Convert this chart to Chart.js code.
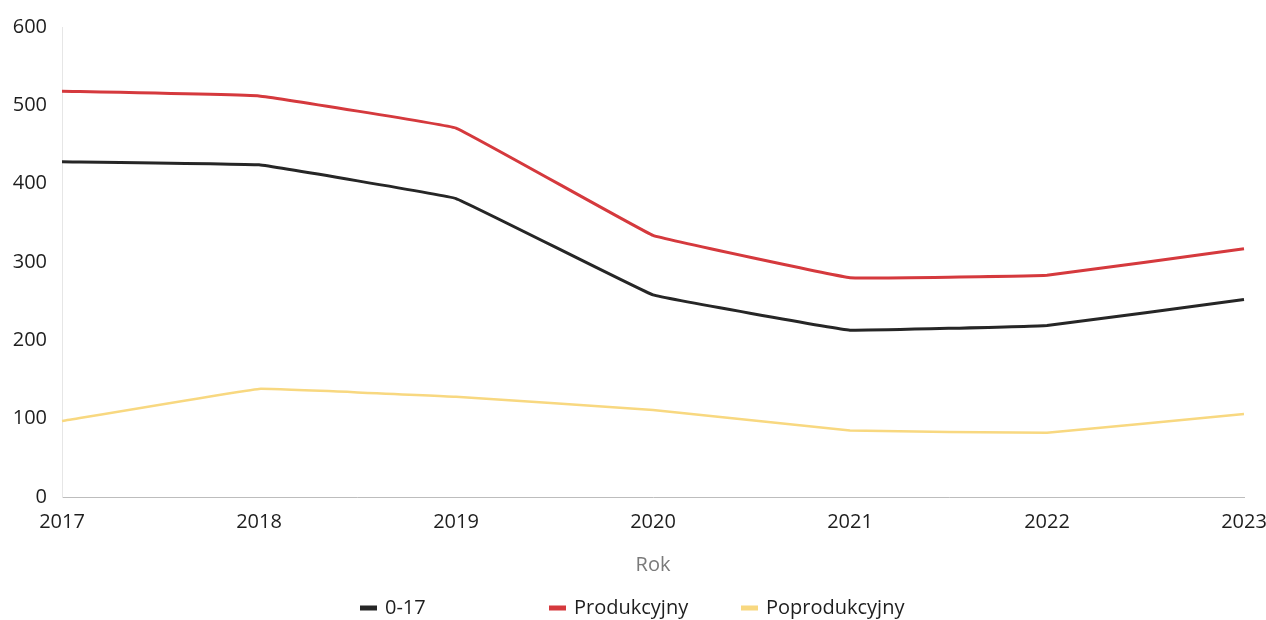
<!DOCTYPE html>
<html>
<head>
<meta charset="utf-8">
<script src="https://cdn.jsdelivr.net/npm/chart.js@4"></script>
<style>
  html, body { margin: 0; padding: 0; background: #fff; }
  #wrap { width: 1266px; height: 620px; }
</style>
</head>
<body>
<div id="wrap"><canvas id="chart" width="1266" height="620"></canvas></div>
<script>
// data
const years = ['2017', '2018', '2019', '2020', '2021', '2022', '2023'];
const kids = [428, 424, 381, 258, 213, 219, 252];          // 0-17
const working = [518, 512, 471, 334, 280, 283, 317];       // Produkcyjny
const retired = [97, 138, 128, 111, 85, 82, 106];          // Poprodukcyjny
const yTicks = [0, 100, 200, 300, 400, 500, 600];

const seriesNames = ['0-17', 'Produkcyjny', 'Poprodukcyjny'];
const seriesColors = ['#262626', '#d5393d', '#f8d880'];
const legendX = [360, 549, 741];

const FONT = '"Open Sans", "Noto Sans", sans-serif';

// hand placed legend, the original has wide fixed columns
const columnLegend = {
    id: 'columnLegend',
    afterDraw(chart) {
        const ctx = chart.ctx;
        ctx.save();
        ctx.font = '20px ' + FONT;
        ctx.textBaseline = 'middle';
        chart.data.datasets.forEach((ds, i) => {
            const x = legendX[i];
            const y = 608;
            ctx.fillStyle = ds.borderColor;
            ctx.fillRect(x, y - 2.5, 17, 5);
            ctx.fillStyle = '#1e1e1e';
            ctx.fillText(ds.label, x + 25, y);
        });
        ctx.restore();
    }
};

new Chart(document.getElementById('chart'), {
    type: 'line',
    data: {
        labels: years,
        datasets: [kids, working, retired].map((vals, i) => ({
            label: seriesNames[i],
            data: vals,
            borderColor: seriesColors[i],
            backgroundColor: seriesColors[i],
            borderWidth: i === 2 ? 2.5 : 3,
            pointRadius: 0,
            tension: 0.05,
            fill: false
        }))
    },
    options: {
        responsive: false,
        animation: false,
        layout: { padding: { top: 20, right: 0, bottom: 33, left: 0 } },
        plugins: {
            legend: { display: false },
            tooltip: { enabled: false }
        },
        scales: {
            x: {
                offset: false,
                grid: { display: false, drawTicks: false },
                border: { display: true, color: '#bdbdbd', dash: [2, 2], width: 1 },
                ticks: {
                    color: '#1e1e1e',
                    padding: 13,
                    maxRotation: 0,
                    font: { size: 20, family: FONT }
                },
                title: {
                    display: true,
                    text: 'Rok',
                    color: '#7a7a7a',
                    padding: { top: 0, bottom: 10 },
                    font: { size: 20, family: FONT }
                },
                afterFit(scale) {
                    scale.height = 90;
                    scale.paddingRight = 22;
                    scale.paddingLeft = 0;
                }
            },
            y: {
                min: 0,
                max: 600,
                afterBuildTicks(scale) { scale.ticks = yTicks.map(v => ({ value: v })); },
                grid: { display: false, drawTicks: false },
                border: { display: true, color: '#e6e6e6', dash: [2, 5], width: 1 },
                ticks: {
                    color: '#1e1e1e',
                    padding: 15,
                    font: { size: 20, family: FONT }
                },
                afterFit(scale) { scale.width = 62; }
            }
        }
    },
    plugins: [columnLegend]
});
</script>
</body>
</html>
